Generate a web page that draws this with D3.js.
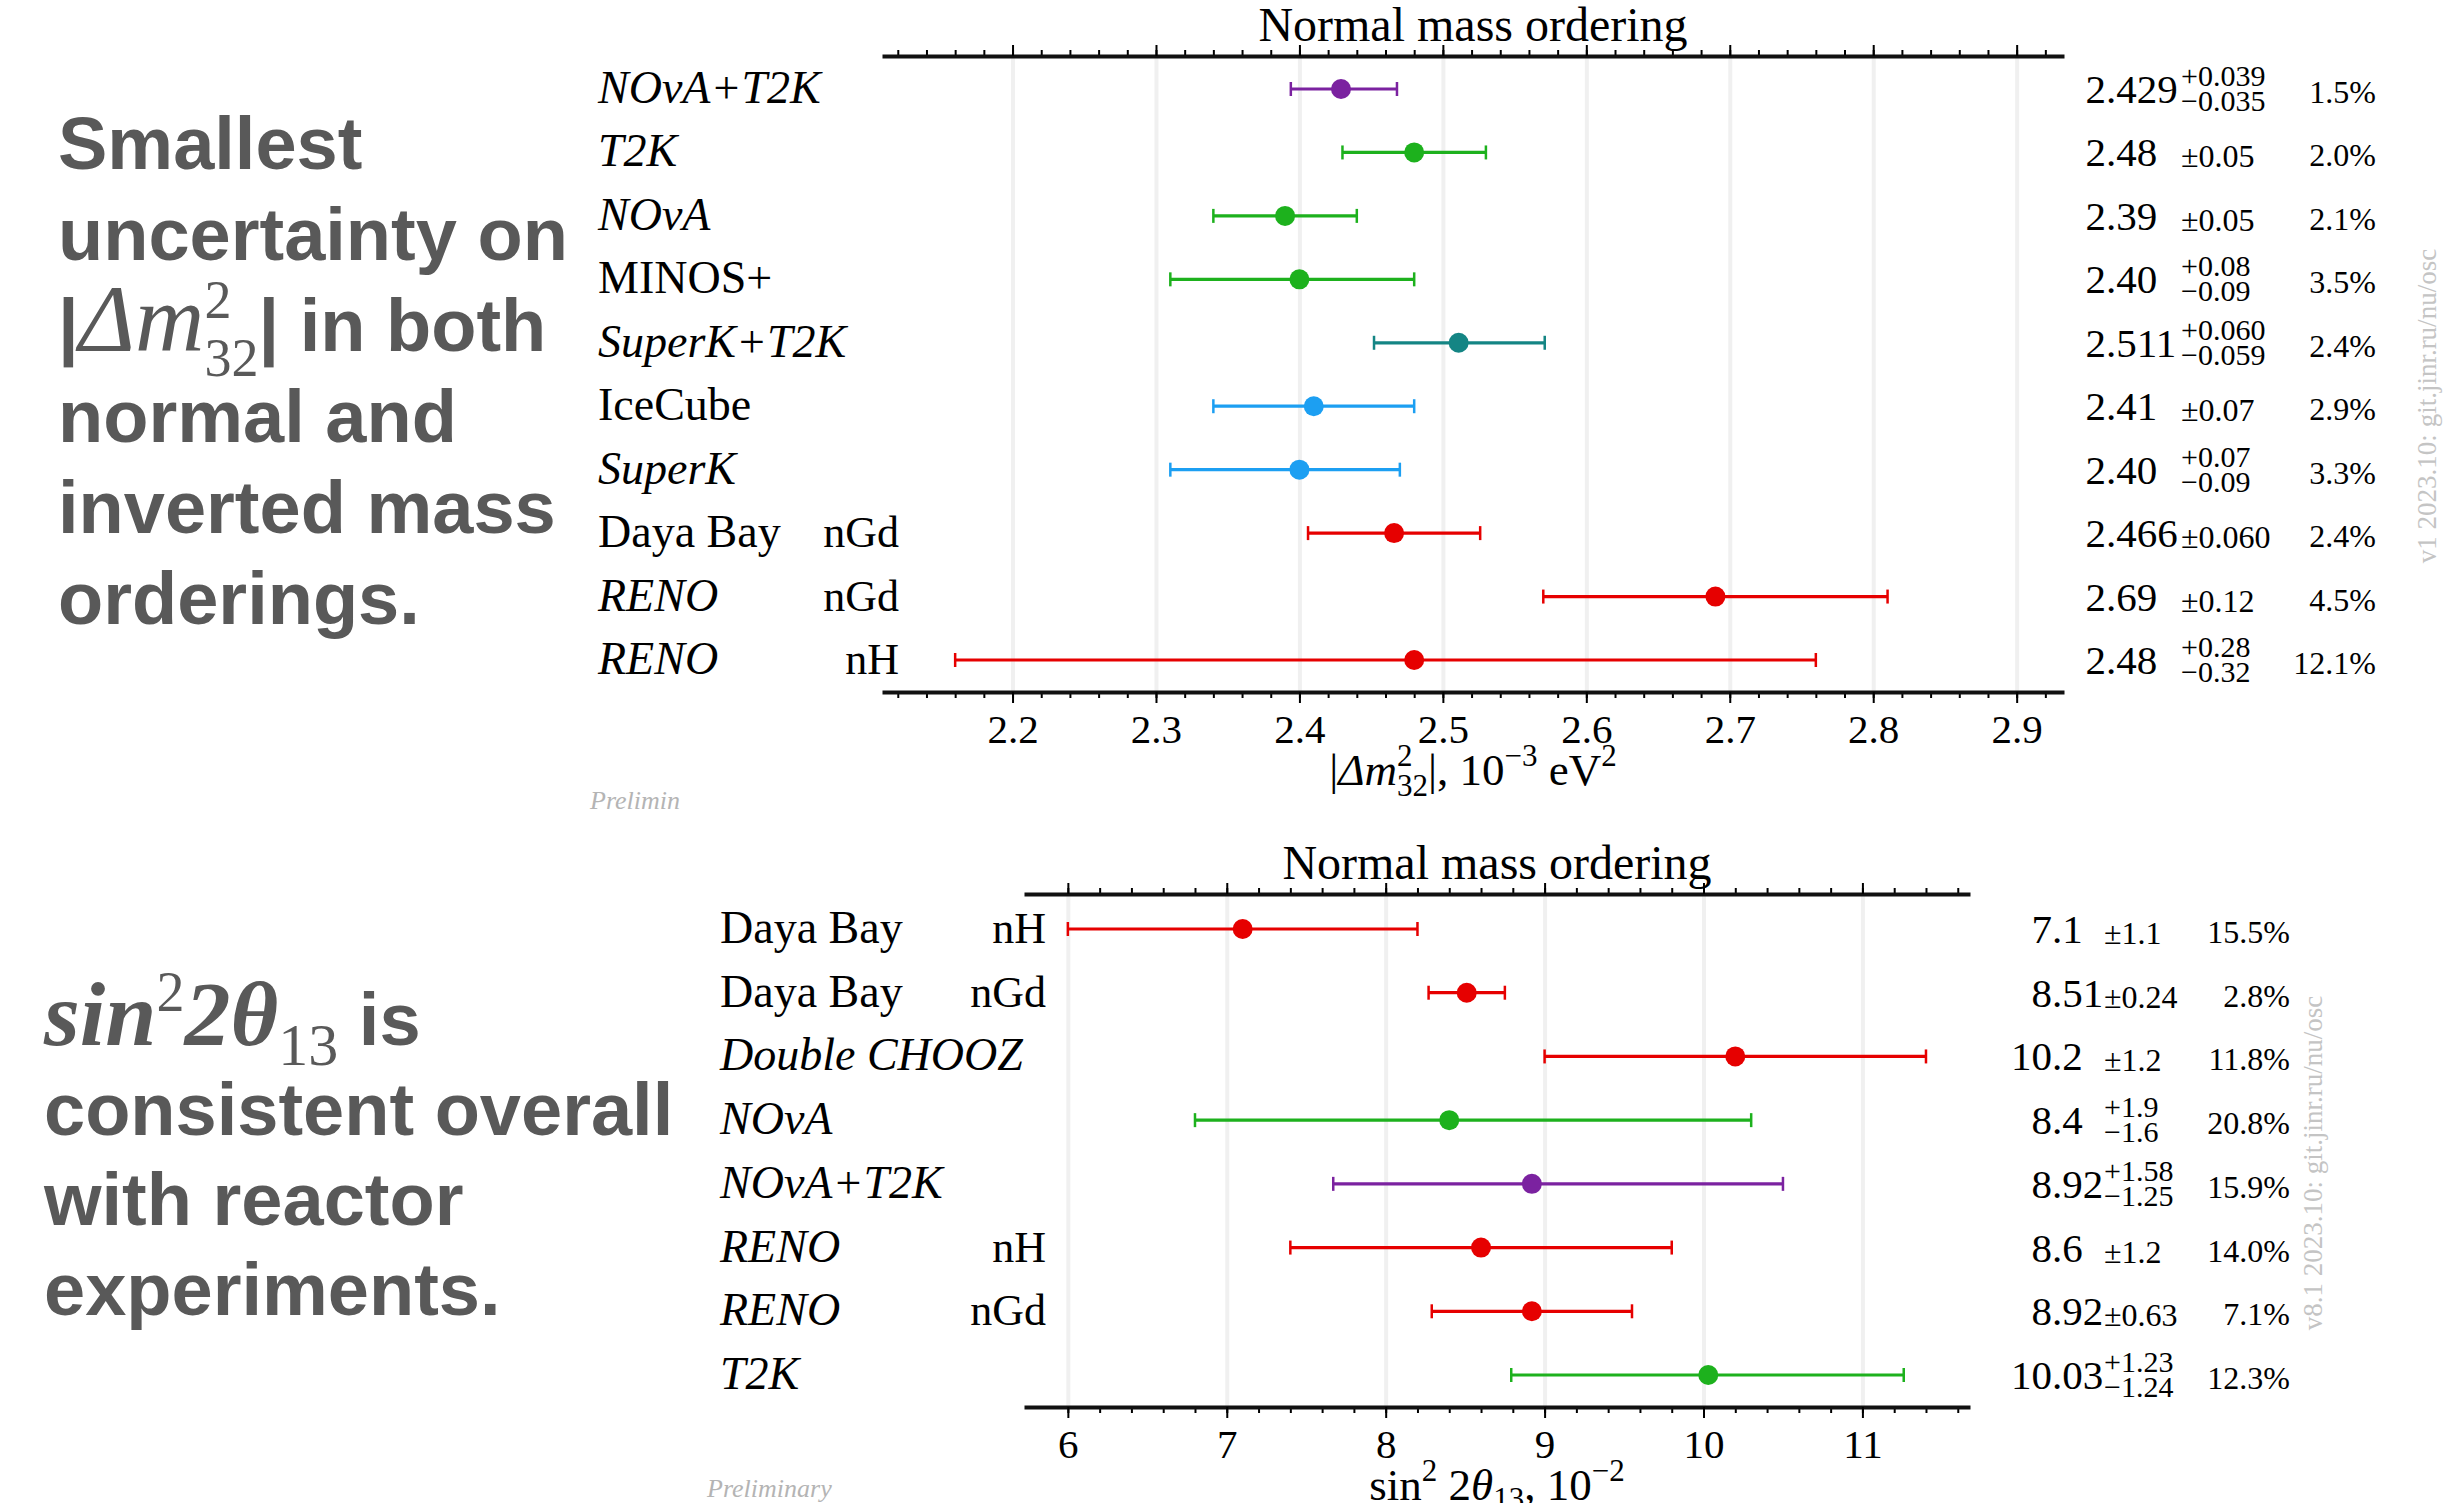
<!DOCTYPE html>
<html>
<head>
<meta charset="utf-8">
<script src="https://cdn.jsdelivr.net/npm/d3@7/dist/d3.min.js"></script>
<style>
	body { margin: 0; background: #fff; }
	svg { display: block; }
</style>
</head>
<body>
<svg id="chart" width="2448" height="1503"></svg>
<script>
// |dm^2_32| panel (normal mass ordering)
var topNames = ["NOvA+T2K", "T2K", "NOvA", "MINOS+", "SuperK+T2K", "IceCube", "SuperK", "Daya Bay", "RENO", "RENO"];
var topTags = ["", "", "", "", "", "", "", "nGd", "nGd", "nH"];
var topGroups = ["combined", "accelerator", "accelerator", "accelerator", "superk_t2k", "atmospheric", "atmospheric", "reactor", "reactor", "reactor"];
var topValues = [2.429, 2.48, 2.39, 2.40, 2.511, 2.41, 2.40, 2.466, 2.69, 2.48];
var topErrHi = [0.039, 0.05, 0.05, 0.08, 0.060, 0.07, 0.07, 0.060, 0.12, 0.28];
var topErrLo = [0.035, 0.05, 0.05, 0.09, 0.059, 0.07, 0.09, 0.060, 0.12, 0.32];
var topDigits = [3, 2, 2, 2, 3, 2, 2, 3, 2, 2];
var topPercent = ["1.5%", "2.0%", "2.1%", "3.5%", "2.4%", "2.9%", "3.3%", "2.4%", "4.5%", "12.1%"];
var topMajorTicks = [2.2, 2.3, 2.4, 2.5, 2.6, 2.7, 2.8, 2.9];

// sin^2 2theta13 panel
var botNames = ["Daya Bay", "Daya Bay", "Double CHOOZ", "NOvA", "NOvA+T2K", "RENO", "RENO", "T2K"];
var botTags = ["nH", "nGd", "", "", "", "nH", "nGd", ""];
var botGroups = ["reactor", "reactor", "reactor", "accelerator", "combined", "reactor", "reactor", "accelerator"];
var botValues = [7.1, 8.51, 10.2, 8.4, 8.92, 8.6, 8.92, 10.03];
var botErrHi = [1.1, 0.24, 1.2, 1.9, 1.58, 1.2, 0.63, 1.23];
var botErrLo = [1.1, 0.24, 1.2, 1.6, 1.25, 1.2, 0.63, 1.24];
var botDigits = [1, 2, 1, 1, 2, 1, 2, 2];
var botPercent = ["15.5%", "2.8%", "11.8%", "20.8%", "15.9%", "14.0%", "7.1%", "12.3%"];
var botMajorTicks = [6, 7, 8, 9, 10, 11];

var italicNames = ["NOvA+T2K", "T2K", "NOvA", "SuperK+T2K", "SuperK", "RENO", "Double CHOOZ"];

var SERIF = "'Liberation Serif', 'DejaVu Serif', serif";
var SANS = "'Liberation Sans', Arial, sans-serif";

var color = d3.scaleOrdinal()
	.domain(["combined", "accelerator", "superk_t2k", "atmospheric", "reactor"])
	.range(["#7b22a0", "#1db11d", "#148584", "#1c9ff2", "#e60000"]);

var svg = d3.select("#chart");
svg.append("rect").attr("width", 2448).attr("height", 1503).attr("fill", "#fff");

// strip the empty label texts that d3 leaves on unlabelled axes
function bareTicks(s) {
	s.selectAll("text").remove();
	s.selectAll("line").attr("stroke", "#000").attr("stroke-width", 2);
}

function drawPanel(cfg) {
	var x = d3.scaleLinear().domain(cfg.domain).range([cfg.left, cfg.right]);
	var y = d3.scalePoint().domain(d3.range(cfg.names.length)).range([cfg.rowTop, cfg.rowBottom]);
	var g = svg.append("g");

	var minor = d3.range(Math.round(cfg.domain[0] / cfg.minorStep) + 1, Math.round(cfg.domain[1] / cfg.minorStep) + 1)
		.map(function(k) { return +(k * cfg.minorStep).toFixed(4); })
		.filter(function(v) { return v >= cfg.domain[0] && v <= cfg.domain[1]; });

	// add the X gridlines
	g.append("g")
		.attr("transform", "translate(0," + cfg.axisTop + ")")
		.call(d3.axisBottom(x).tickValues(cfg.majors).tickSize(cfg.axisBottom - cfg.axisTop).tickFormat(""))
		.call(function(s) {
			s.select(".domain").remove();
			s.selectAll("text").remove();
			s.selectAll("line").attr("stroke", "#f0f0f0").attr("stroke-width", 4);
		});

	// top axis: minor and major ticks, no labels
	g.append("g")
		.attr("transform", "translate(0," + cfg.axisTop + ")")
		.call(d3.axisTop(x).tickValues(minor).tickSize(6).tickSizeOuter(0).tickFormat(""))
		.call(function(s) { s.select(".domain").remove(); bareTicks(s); });
	g.append("g")
		.attr("transform", "translate(0," + cfg.axisTop + ")")
		.call(d3.axisTop(x).tickValues(cfg.majors).tickSize(11).tickSizeOuter(0).tickFormat(""))
		.call(function(s) {
			s.select(".domain").attr("stroke", "#111").attr("stroke-width", 4);
			bareTicks(s);
		});

	// bottom axis with labels
	g.append("g")
		.attr("transform", "translate(0," + cfg.axisBottom + ")")
		.call(d3.axisBottom(x).tickValues(minor).tickSize(6).tickSizeOuter(0).tickFormat(""))
		.call(function(s) { s.select(".domain").remove(); bareTicks(s); });
	g.append("g")
		.attr("transform", "translate(0," + cfg.axisBottom + ")")
		.call(d3.axisBottom(x).tickValues(cfg.majors).tickSize(11).tickSizeOuter(0).tickPadding(11).tickFormat(cfg.tickFormat))
		.call(function(s) {
			s.attr("font-family", SERIF).attr("font-size", 41);
			s.select(".domain").attr("stroke", "#111").attr("stroke-width", 4);
			s.selectAll("line").attr("stroke-width", 2);
			s.selectAll("text").attr("fill", "#000").style("font-family", SERIF);
		});

	// title
	g.append("text")
		.attr("x", (cfg.left + cfg.right) / 2)
		.attr("y", cfg.axisTop - 15)
		.attr("text-anchor", "middle")
		.attr("font-family", SERIF).attr("font-size", 48)
		.text("Normal mass ordering");

	// axis label
	var lab = g.append("text")
		.attr("x", (cfg.left + cfg.right) / 2)
		.attr("y", cfg.axisBottom + 93)
		.attr("text-anchor", "middle")
		.attr("font-family", SERIF).attr("font-size", 45);
	cfg.axisLabel.forEach(function(p) {
		var t = lab.append("tspan").text(p.t);
		if (p.dy) t.attr("dy", p.dy);
		if (p.dx) t.attr("dx", p.dx);
		if (p.s) t.attr("font-size", p.s);
		if (p.i) t.attr("font-style", "italic");
	});

	var rows = g.selectAll(".row")
		.data(cfg.names.map(function(n, i) { return i; }))
		.enter().append("g").attr("class", "row");

	// error bars
	rows.append("line")
		.attr("x1", function(i) { return x(cfg.values[i] - cfg.lo[i]); })
		.attr("x2", function(i) { return x(cfg.values[i] + cfg.hi[i]); })
		.attr("y1", function(i) { return y(i); })
		.attr("y2", function(i) { return y(i); })
		.attr("stroke", function(i) { return color(cfg.groups[i]); })
		.attr("stroke-width", 3.2);
	[function(i) { return x(cfg.values[i] - cfg.lo[i]); }, function(i) { return x(cfg.values[i] + cfg.hi[i]); }].forEach(function(fx) {
		rows.append("line")
			.attr("x1", fx).attr("x2", fx)
			.attr("y1", function(i) { return y(i) - 7; })
			.attr("y2", function(i) { return y(i) + 7; })
			.attr("stroke", function(i) { return color(cfg.groups[i]); })
			.attr("stroke-width", 2.5);
	});
	rows.append("circle")
		.attr("cx", function(i) { return x(cfg.values[i]); })
		.attr("cy", function(i) { return y(i); })
		.attr("r", 10)
		.attr("fill", function(i) { return color(cfg.groups[i]); });

	// experiment names and tags
	rows.append("text")
		.attr("x", cfg.labelX)
		.attr("y", function(i) { return y(i) + 14; })
		.attr("font-family", SERIF).attr("font-size", 46)
		.attr("font-style", function(i) { return italicNames.indexOf(cfg.names[i]) >= 0 ? "italic" : "normal"; })
		.text(function(i) { return cfg.names[i]; });
	rows.append("text")
		.attr("x", cfg.tagX)
		.attr("y", function(i) { return y(i) + 14; })
		.attr("text-anchor", "end")
		.attr("font-family", SERIF).attr("font-size", 44)
		.text(function(i) { return cfg.tags[i]; });

	// values, aligned on the decimal point
	rows.append("text")
		.attr("x", cfg.dotX)
		.attr("y", function(i) { return y(i) + 14; })
		.attr("text-anchor", "end")
		.attr("font-family", SERIF).attr("font-size", 41)
		.text(function(i) { return cfg.values[i].toFixed(cfg.digits[i]).split(".")[0]; });
	rows.append("text")
		.attr("x", cfg.dotX)
		.attr("y", function(i) { return y(i) + 14; })
		.attr("font-family", SERIF).attr("font-size", 41)
		.text(function(i) { return "." + cfg.values[i].toFixed(cfg.digits[i]).split(".")[1]; });

	// uncertainties
	rows.each(function(i) {
		var r = d3.select(this);
		var d = cfg.digits[i];
		if (cfg.hi[i] === cfg.lo[i]) {
			r.append("text")
				.attr("x", cfg.uncX).attr("y", y(i) + 15)
				.attr("font-family", SERIF).attr("font-size", 32)
				.text("\u00b1" + cfg.hi[i].toFixed(d));
		} else {
			r.append("text")
				.attr("x", cfg.uncX).attr("y", y(i) - 3)
				.attr("font-family", SERIF).attr("font-size", 30)
				.text("+" + cfg.hi[i].toFixed(d));
			r.append("text")
				.attr("x", cfg.uncX).attr("y", y(i) + 22)
				.attr("font-family", SERIF).attr("font-size", 30)
				.text("\u2212" + cfg.lo[i].toFixed(d));
		}
	});

	// relative uncertainty
	rows.append("text")
		.attr("x", cfg.pctX)
		.attr("y", function(i) { return y(i) + 14; })
		.attr("text-anchor", "end")
		.attr("font-family", SERIF).attr("font-size", 32)
		.text(function(i) { return cfg.percent[i]; });

	// version stamp
	g.append("text")
		.attr("transform", "translate(" + cfg.stampX + "," + cfg.stampY + ") rotate(-90)")
		.attr("text-anchor", "middle")
		.attr("font-family", SERIF).attr("font-size", 27)
		.attr("fill", "#c4c4c4")
		.text(cfg.stamp);

	// preliminary mark
	g.append("text")
		.attr("x", cfg.prelimX).attr("y", cfg.prelimY)
		.attr("font-family", SERIF).attr("font-size", 26)
		.attr("font-style", "italic")
		.attr("fill", "#b4b4b4")
		.text(cfg.prelim);
}

drawPanel({
	names: topNames, tags: topTags, groups: topGroups,
	values: topValues, hi: topErrHi, lo: topErrLo, digits: topDigits, percent: topPercent,
	majors: topMajorTicks, minorStep: 0.02, tickFormat: d3.format(".1f"),
	domain: [2.109, 2.933], left: 882, right: 2064,
	axisTop: 56, axisBottom: 692, rowTop: 89, rowBottom: 660,
	labelX: 598, tagX: 899, dotX: 2106, uncX: 2181, pctX: 2376,
	stamp: "v1 2023.10: git.jinr.ru/nu/osc", stampX: 2436, stampY: 406,
	prelim: "Prelimin", prelimX: 590, prelimY: 809,
	axisLabel: [
		{t: "|"}, {t: "\u0394m", i: true}, {t: "2", s: 31, dy: -19}, {t: "32", s: 31, dx: -15.5, dy: 30},
		{t: "|, 10", s: 45, dy: -11}, {t: "\u22123", s: 31, dy: -19}, {t: " eV", s: 45, dy: 19}, {t: "2", s: 31, dy: -19}
	]
});

drawPanel({
	names: botNames, tags: botTags, groups: botGroups,
	values: botValues, hi: botErrHi, lo: botErrLo, digits: botDigits, percent: botPercent,
	majors: botMajorTicks, minorStep: 0.2, tickFormat: d3.format("d"),
	domain: [5.724, 11.677], left: 1024, right: 1970,
	axisTop: 894, axisBottom: 1407, rowTop: 929, rowBottom: 1375,
	labelX: 720, tagX: 1046, dotX: 2052, uncX: 2104, pctX: 2290,
	stamp: "v8.1 2023.10: git.jinr.ru/nu/osc", stampX: 2322, stampY: 1163,
	prelim: "Preliminary", prelimX: 707, prelimY: 1497,
	axisLabel: [
		{t: "sin"}, {t: "2", s: 31, dy: -19}, {t: " 2", s: 45, dy: 19}, {t: "\u03b8", i: true},
		{t: "13", s: 31, dy: 9}, {t: ", 10", s: 45, dy: -9}, {t: "\u22122", s: 31, dy: -19}
	]
});

// left-hand commentary
function richLine(x, yb, parts) {
	var t = svg.append("text").attr("x", x).attr("y", yb).attr("fill", "#595959");
	parts.forEach(function(p) {
		var s = t.append("tspan").text(p.t)
			.attr("font-family", p.f === "serif" ? SERIF : SANS)
			.attr("font-weight", p.f === "serif" ? (p.b ? "bold" : "normal") : "bold")
			.attr("font-size", p.s || 74);
		if (p.i) s.attr("font-style", "italic");
		if (p.dy) s.attr("dy", p.dy);
		if (p.dx) s.attr("dx", p.dx);
	});
}

var topNote = [
	[{t: "Smallest"}],
	[{t: "uncertainty on"}],
	[{t: "|"}, {t: "\u0394m", f: "serif", i: true, s: 96}, {t: "2", f: "serif", s: 54, dy: -33},
		{t: "32", f: "serif", s: 54, dx: -27, dy: 58}, {t: "| in both", dy: -25}],
	[{t: "normal and"}],
	[{t: "inverted mass"}],
	[{t: "orderings."}]
];
topNote.forEach(function(parts, k) { richLine(58, 169 + k * 91, parts); });

var botNote = [
	[{t: "sin", f: "serif", i: true, b: true, s: 92}, {t: "2", f: "serif", s: 56, dy: -34},
		{t: "2\u03b8", f: "serif", i: true, b: true, s: 92, dy: 34}, {t: "13", f: "serif", s: 60, dy: 20}, {t: " is", dy: -20}],
	[{t: "consistent overall"}],
	[{t: "with reactor"}],
	[{t: "experiments."}]
];
botNote.forEach(function(parts, k) { richLine(44, 1045 + k * 90, parts); });
</script>
</body>
</html>
